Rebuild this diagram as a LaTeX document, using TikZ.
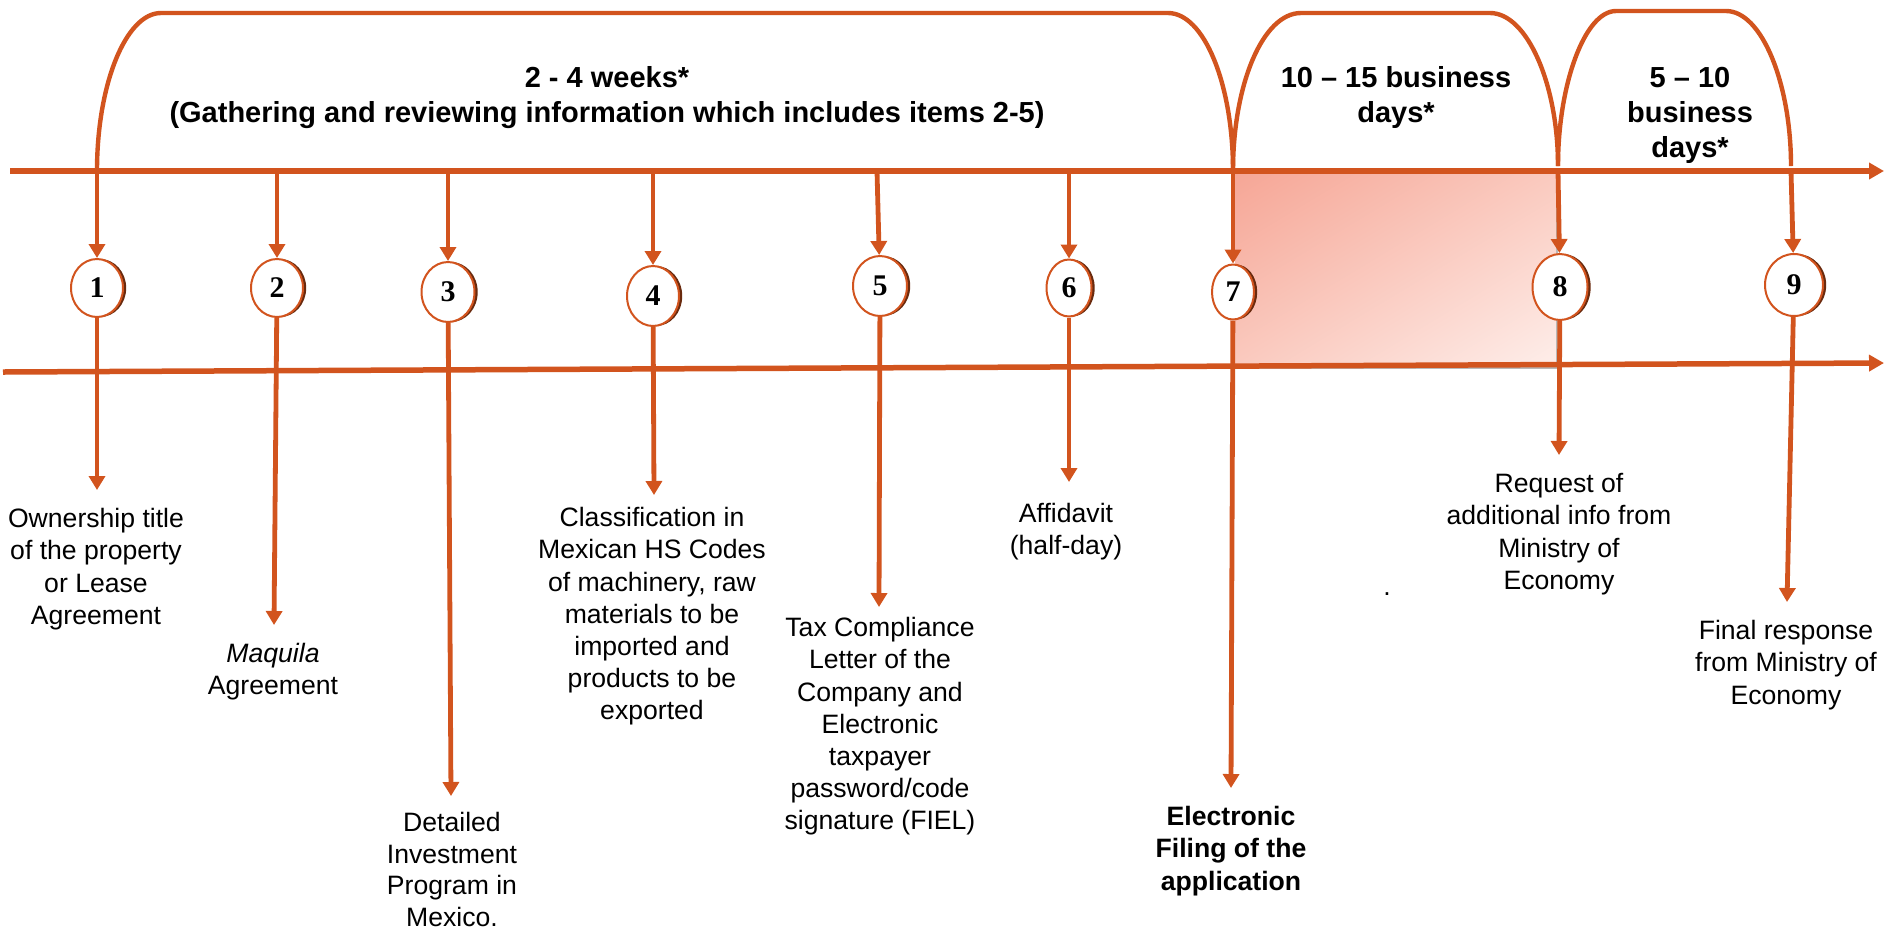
\documentclass[tikz,border=0pt]{standalone}
\usepackage{fontspec}
\setmainfont{Liberation Sans}
\newfontfamily\numfont{Liberation Serif}
\usetikzlibrary{arrows.meta,shapes.geometric,shadings}
\definecolor{oc}{RGB}{210,84,30}
\definecolor{shb}{RGB}{105,42,14}
\definecolor{boxa}{RGB}{246,166,150}
\definecolor{boxm}{RGB}{250,202,191}
\definecolor{boxb}{RGB}{254,238,234}
\begin{document}
\begin{tikzpicture}[x=0.5pt,y=-0.5pt,
  axisline/.style={draw=oc, line width=2.75pt, -{Triangle[length=7.5pt,width=8pt]}},
  brk/.style={draw=oc, line width=2.2pt},
  arr/.style={draw=oc, line width=2.4pt, -{Triangle[length=7pt,width=8pt]}},
  num/.style={ellipse, draw=oc, line width=1pt, fill=white, inner sep=0pt,
    font=\numfont\bfseries\fontsize{15}{15}\selectfont,
    preaction={fill=shb, transform canvas={xshift=1.6pt}}},
  body/.style={align=center, inner sep=0pt, anchor=north, font=\fontsize{13.3}{16.1}\selectfont},
  head/.style={align=center, inner sep=0pt, anchor=north, font=\bfseries\fontsize{14.5}{17.5}\selectfont}]
\useasboundingbox (0,0) rectangle (1885,933);

% shaded period box
\shade[upper left=boxa, upper right=boxm, lower left=boxm, lower right=boxb] (1235,173) rectangle (1557,367);
\draw[gray!55, line width=0.8pt] (1557,173) -- (1557,368) -- (1235,368);

% axes
\coordinate (ta0) at (10,171);
\coordinate (ta1) at (1884,171);
\coordinate (ba0) at (3,372);
\coordinate (ba1) at (1884,363);
\draw[axisline] (ta0) -- (ta1);
\draw[axisline] (ba0) -- (ba1);

% brackets
\coordinate (b1) at (97,171);
\coordinate (b7) at (1233,171);
\coordinate (b8) at (1558,166);
\coordinate (b9) at (1791,166);
\draw[brk] (b1) .. controls (97,84) and (126,13) .. (161,13) -- (1168,13)
  .. controls (1204,13) and (1233,84) .. (b7);
\draw[brk] (b7) .. controls (1233,84) and (1263,13) .. (1301,13) -- (1490,13)
  .. controls (1527,13) and (1558,84) .. (b8);
\draw[brk] (b8) .. controls (1558,84) and (1585,11) .. (1616,11) -- (1726,11)
  .. controls (1762,11) and (1791,84) .. (b9);

% headings
\node[head] (h1) at (607,66) {2 - 4 weeks*\\(Gathering and reviewing information which includes items 2-5)};
\node[head] (h2) at (1396,66) {10 -- 15 business\\days*};
\node[head] (h3) at (1690,67) {5 -- 10\\business\\days*};

% numbered circles
\node[num, minimum width=26pt, minimum height=29pt] (c1) at (97,288) {1};
\node[num, minimum width=26pt, minimum height=29pt] (c2) at (277,288) {2};
\node[num, minimum width=26.5pt, minimum height=30pt] (c3) at (448,292) {3};
\node[num, minimum width=26pt, minimum height=30pt] (c4) at (653,296) {4};
\node[num, minimum width=27pt, minimum height=30pt] (c5) at (880,286) {5};
\node[num, minimum width=22.5pt, minimum height=28.5pt] (c6) at (1069,288) {6};
\node[num, minimum width=21pt, minimum height=27.5pt] (c7) at (1233,292) {7};
\node[num, minimum width=27.5pt, minimum height=33pt] (c8) at (1560,287) {8};
\node[num, minimum width=29pt, minimum height=31pt] (c9) at (1794,285) {9};

% arrow starts on the top axis
\coordinate (a2) at (277,171);
\coordinate (a3) at (448,171);
\coordinate (a4) at (653,171);
\coordinate (a5) at (877,171);
\coordinate (a6) at (1069,174);
\coordinate (a8) at (1558,171);
\coordinate (a9) at (1791,171);
\draw[arr] (b1) -- (c1);
\draw[arr] (a2) -- (c2);
\draw[arr] (a3) -- (c3);
\draw[arr] (a4) -- (c4);
\draw[arr] (a5) -- (c5);
\draw[arr] (a6) -- (c6);
\draw[arr] (b7) -- (c7);
\draw[arr] (a8) -- (c8);
\draw[arr] (a9) -- (c9);

% descriptions
\node[body] (d1) at (96,508) {Ownership title\\of the property\\or Lease\\Agreement};
\node[body] (d2) at (273,643) {\itshape Maquila\\Agreement};
\node[body, font=\fontsize{13.3}{15.8}\selectfont] (d3) at (452,812) {Detailed\\Investment\\Program in\\Mexico.};
\node[body] (d4) at (652,507) {Classification in\\Mexican HS Codes\\of machinery, raw\\materials to be\\imported and\\products to be\\exported};
\node[body] (d5) at (880,617) {Tax Compliance\\Letter of the\\Company and\\Electronic\\taxpayer\\password/code\\signature (FIEL)};
\node[body] (d6) at (1066,503) {Affidavit\\(half-day)};
\node[body, font=\bfseries\fontsize{13.3}{16.1}\selectfont] (d7) at (1231,806) {Electronic\\Filing of the\\application};
\node[body] (d8) at (1559,473) {Request of\\additional info from\\Ministry of\\Economy};
\node[body] (d9) at (1786,620) {Final response\\from Ministry of\\Economy};
\node[font=\fontsize{13.3}{16.1}\selectfont, inner sep=0pt] (dot) at (1387,594) {.};

% arrow ends above the descriptions
\coordinate (e1) at (97,490);
\coordinate (e2) at (274,625);
\coordinate (e3) at (451,796);
\coordinate (e4) at (654,495);
\coordinate (e5) at (879,607);
\coordinate (e6) at (1069,482);
\coordinate (e7) at (1231,788);
\coordinate (e8) at (1559,455);
\coordinate (e9) at (1787,602);
\draw[arr] (c1) -- (e1);
\draw[arr] (c2) -- (e2);
\draw[arr] (c3) -- (e3);
\draw[arr] (c4) -- (e4);
\draw[arr] (c5) -- (e5);
\draw[arr] (c6) -- (e6);
\draw[arr] (c7) -- (e7);
\draw[arr] (c8) -- (e8);
\draw[arr] (c9) -- (e9);
\end{tikzpicture}
\end{document}
